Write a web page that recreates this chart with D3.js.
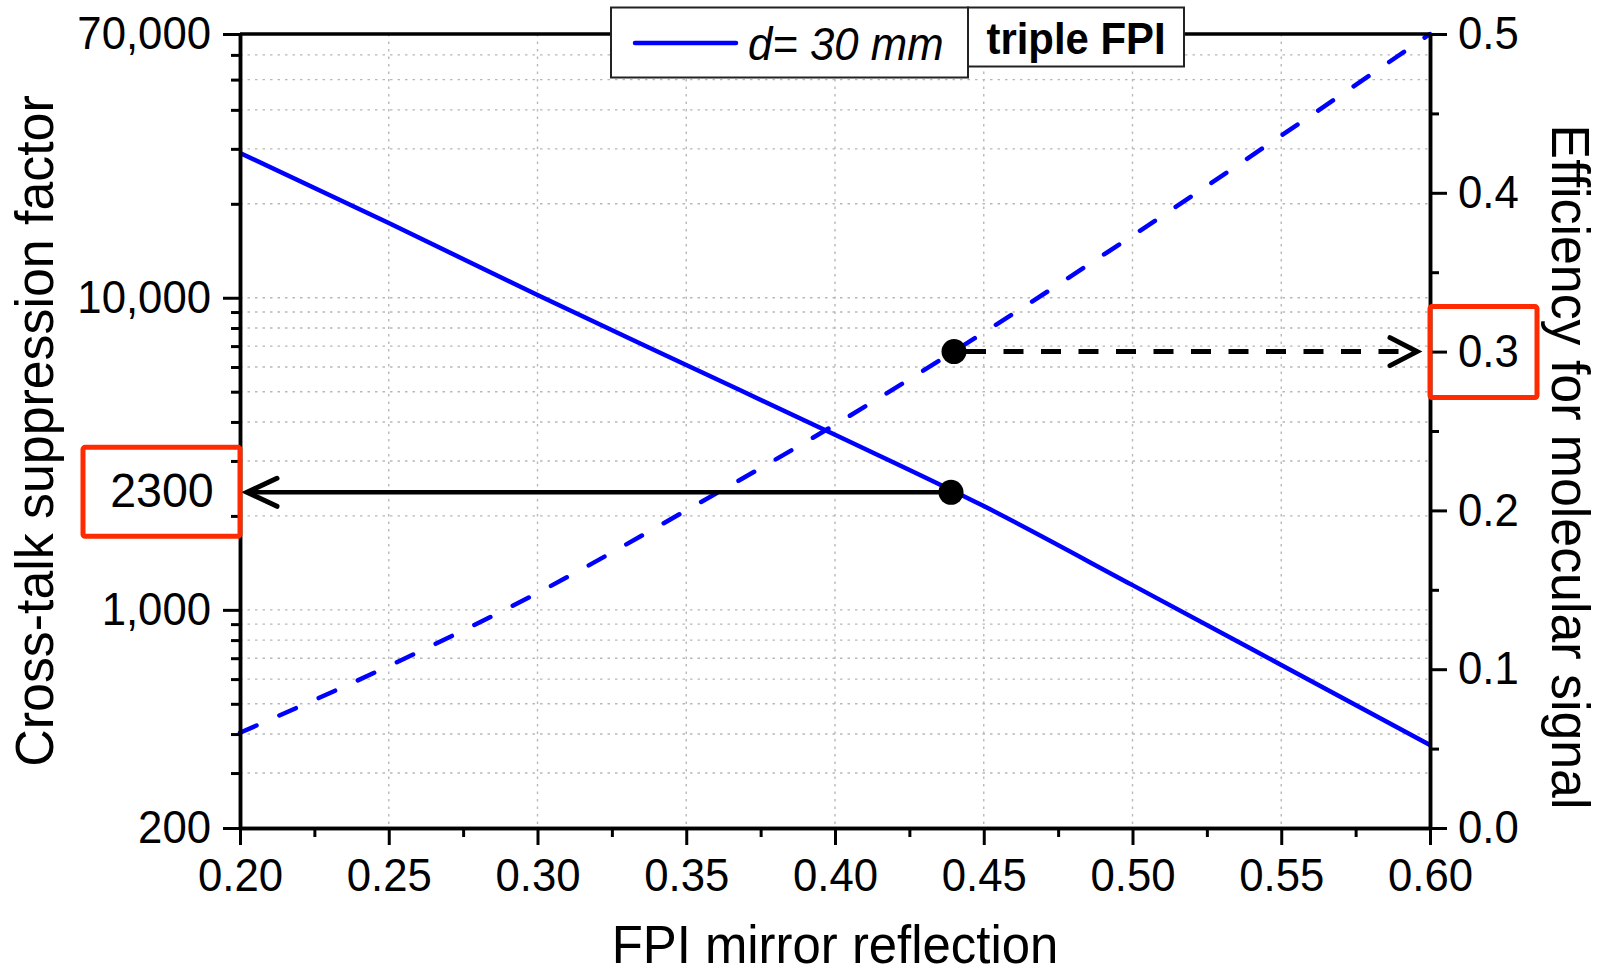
<!DOCTYPE html>
<html>
<head>
<meta charset="utf-8">
<script src="https://cdn.jsdelivr.net/npm/d3@7"></script>
<style>
  body { margin: 0; background: #fff; }
  text { font-family: "Liberation Sans", Arial, sans-serif; }
</style>
</head>
<body>
<svg id="chart" width="1602" height="975"></svg>
<script>
// values
const reflection  = [0.20, 0.25, 0.30, 0.35, 0.40, 0.45, 0.50, 0.55, 0.60];
const suppression = [29100, 17360, 10200, 6090, 3640, 2150, 1200, 666, 369];
const efficiency  = [0.060, 0.102, 0.148, 0.200, 0.254, 0.312, 0.373, 0.436, 0.500];

const xMajor = [0.20, 0.25, 0.30, 0.35, 0.40, 0.45, 0.50, 0.55, 0.60];
const xMinor = [0.225, 0.275, 0.325, 0.375, 0.425, 0.475, 0.525, 0.575];
const leftMajor = [200, 1000, 10000, 70000];
const leftMinor = [300, 400, 500, 600, 700, 800, 900,
                   2000, 3000, 4000, 5000, 6000, 7000, 8000, 9000,
                   20000, 30000, 40000, 50000, 60000];
const rightMajor = [0.0, 0.1, 0.2, 0.3, 0.4, 0.5];
const rightMinor = [0.05, 0.15, 0.25, 0.35, 0.45];

const markerX = 0.44;
const markerSupp = 2380;
const markerEff = 0.30;
const suppLabel = "2300";

const legendLabel = "d= 30 mm";
const boxLabel = "triple FPI";
const xTitle = "FPI mirror reflection";
const yLeftTitle = "Cross-talk suppression factor";
const yRightTitle = "Efficiency for molecular signal";

const svg = d3.select("#chart");
const m = {left: 240, right: 1430, top: 34, bottom: 828};
const blue = "#0000ff", red = "#ff2a00";

const x = d3.scaleLinear().domain([0.2, 0.6]).range([m.left, m.right]);
const yL = d3.scaleLog().domain([200, 70000]).range([m.bottom, m.top]);
const yR = d3.scaleLinear().domain([0, 0.5]).range([m.bottom, m.top]);

// squeeze text a bit so it is taller than wide, like the original
function narrow(sel, size, factor) {
  sel.attr("font-size", size).each(function() {
    let w = this.getComputedTextLength();
    if (w > 0) d3.select(this).attr("textLength", w * factor).attr("lengthAdjust", "spacingAndGlyphs");
  });
}

// grid
let grid = svg.append("g").attr("stroke", "#b8b8b8").attr("stroke-width", 1.4)
  .attr("stroke-dasharray", "2.5,5");
grid.selectAll(".h").data(leftMajor.concat(leftMinor).filter(d => d > 200 && d < 70000))
  .join("line").attr("x1", m.left).attr("x2", m.right)
  .attr("y1", d => yL(d)).attr("y2", d => yL(d));
grid.selectAll(".v").data(xMajor.slice(1, -1))
  .join("line").attr("y1", m.top).attr("y2", m.bottom)
  .attr("x1", d => x(d)).attr("x2", d => x(d));

// curves
let lineL = d3.line().x((d, i) => x(reflection[i])).y(d => yL(d)).curve(d3.curveMonotoneX);
let lineR = d3.line().x((d, i) => x(reflection[i])).y(d => yR(d)).curve(d3.curveMonotoneX);
svg.append("path").datum(suppression)
  .attr("fill", "none").attr("stroke", blue).attr("stroke-width", 4.5)
  .attr("d", lineL);
svg.append("path").datum(efficiency)
  .attr("fill", "none").attr("stroke", blue).attr("stroke-width", 4.5)
  .attr("stroke-linecap", "round").attr("stroke-dasharray", "18,25")
  .attr("d", lineR);

// annotation arrows
let ay1 = yL(markerSupp);
let tipL = x(0.2) + 7;
svg.append("line").attr("x1", x(markerX)).attr("x2", tipL + 2)
  .attr("y1", ay1).attr("y2", ay1).attr("stroke", "#000").attr("stroke-width", 4.5);
svg.append("path")
  .attr("d", `M${tipL + 30},${ay1 - 14}L${tipL},${ay1}L${tipL + 30},${ay1 + 14}`)
  .attr("fill", "none").attr("stroke", "#000").attr("stroke-width", 5)
  .attr("stroke-linecap", "round");

let ay2 = yR(markerEff);
let tipR = x(0.6) - 13;
svg.append("line").attr("x1", x(markerX) + 12).attr("x2", tipR - 4)
  .attr("y1", ay2).attr("y2", ay2).attr("stroke", "#000").attr("stroke-width", 5)
  .attr("stroke-dasharray", "20,17.5");
svg.append("path")
  .attr("d", `M${tipR - 27},${ay2 - 14}L${tipR},${ay2}L${tipR - 27},${ay2 + 14}`)
  .attr("fill", "none").attr("stroke", "#000").attr("stroke-width", 5)
  .attr("stroke-linecap", "round");

svg.append("circle").attr("cx", x(markerX) - 3).attr("cy", ay1).attr("r", 12.5).attr("fill", "#000");
svg.append("circle").attr("cx", x(markerX)).attr("cy", ay2).attr("r", 12.5).attr("fill", "#000");

// axes
function styleAxis(g) {
  g.select(".domain").attr("stroke", "#000").attr("stroke-width", 3.5);
  g.selectAll(".tick line").attr("stroke", "#000").attr("stroke-width", 3);
  g.selectAll("text").attr("fill", "#000")
    .attr("font-family", "'Liberation Sans', Arial, sans-serif")
    .call(narrow, 46, 0.95);
}

svg.append("g").attr("transform", `translate(${m.left},0)`)
  .call(d3.axisLeft(yL).tickValues(leftMinor).tickSize(9).tickSizeOuter(0).tickFormat(""))
  .call(styleAxis);
svg.append("g").attr("transform", `translate(${m.left},0)`)
  .call(d3.axisLeft(yL).tickValues(leftMajor).tickSize(17).tickPadding(12).tickSizeOuter(0)
    .tickFormat(d3.format(",")))
  .call(styleAxis);

svg.append("g").attr("transform", `translate(${m.right},0)`)
  .call(d3.axisRight(yR).tickValues(rightMinor).tickSize(9).tickSizeOuter(0).tickFormat(""))
  .call(styleAxis);
svg.append("g").attr("transform", `translate(${m.right},0)`)
  .call(d3.axisRight(yR).tickValues(rightMajor).tickSize(17).tickPadding(11).tickSizeOuter(0)
    .tickFormat(d3.format(".1f")))
  .call(styleAxis);

svg.append("g").attr("transform", `translate(0,${m.bottom})`)
  .call(d3.axisBottom(x).tickValues(xMinor).tickSize(9).tickSizeOuter(0).tickFormat(""))
  .call(styleAxis);
svg.append("g").attr("transform", `translate(0,${m.bottom})`)
  .call(d3.axisBottom(x).tickValues(xMajor).tickSize(17).tickPadding(13).tickSizeOuter(0)
    .tickFormat(d3.format(".2f")))
  .call(styleAxis);

svg.append("line").attr("x1", m.left).attr("x2", m.right).attr("y1", m.top).attr("y2", m.top)
  .attr("stroke", "#000").attr("stroke-width", 3.5);

// legend
svg.append("rect").attr("x", 611).attr("y", 7.5).attr("width", 357).attr("height", 70)
  .attr("fill", "#fff").attr("stroke", "#222").attr("stroke-width", 2);
svg.append("rect").attr("x", 968).attr("y", 7.5).attr("width", 216).attr("height", 59)
  .attr("fill", "#fff").attr("stroke", "#222").attr("stroke-width", 2);
svg.append("line").attr("x1", 635).attr("x2", 736).attr("y1", 43).attr("y2", 43)
  .attr("stroke", blue).attr("stroke-width", 4.5).attr("stroke-linecap", "round");
svg.append("text").attr("x", 748).attr("y", 60)
  .attr("font-style", "italic").text(legendLabel).call(narrow, 47, 0.93);
svg.append("text").attr("x", 1076).attr("y", 54)
  .attr("font-weight", "bold").attr("text-anchor", "middle").text(boxLabel).call(narrow, 45, 0.93);

// red highlight boxes
svg.append("rect").attr("x", 83).attr("y", ay1 - 45).attr("width", 157).attr("height", 89)
  .attr("rx", 2).attr("fill", "none").attr("stroke", red).attr("stroke-width", 5);
svg.append("text").attr("x", 162).attr("y", ay1 + 15)
  .attr("text-anchor", "middle").text(suppLabel).call(narrow, 49, 0.95);
svg.append("rect").attr("x", m.right).attr("y", ay2 - 45).attr("width", 107).attr("height", 91)
  .attr("rx", 2).attr("fill", "none").attr("stroke", red).attr("stroke-width", 5);

// titles
svg.append("text").attr("transform", `translate(53,431) rotate(-90)`)
  .attr("text-anchor", "middle").text(yLeftTitle).call(narrow, 54, 0.96);
svg.append("text").attr("transform", `translate(1552,467) rotate(90)`)
  .attr("text-anchor", "middle").text(yRightTitle).call(narrow, 54, 0.96);
svg.append("text").attr("x", 835).attr("y", 963).attr("text-anchor", "middle")
  .text(xTitle).call(narrow, 53, 0.96);
</script>
</body>
</html>
